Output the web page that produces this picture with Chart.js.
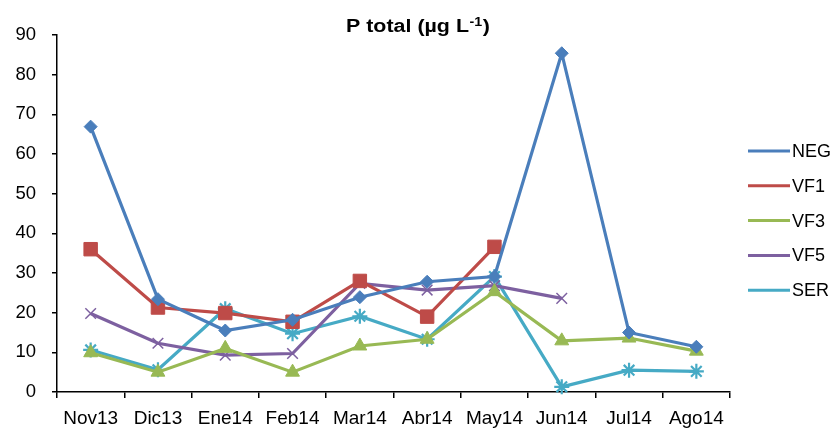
<!DOCTYPE html>
<html>
<head>
<meta charset="utf-8">
<style>
  html, body { margin: 0; padding: 0; background: #fff; }
  #wrap { width: 837px; height: 430px; }
</style>
<script src="https://cdn.jsdelivr.net/npm/chart.js@4/dist/chart.umd.min.js"></script>
</head>
<body>
<div id="wrap"><canvas id="c" width="837" height="430"></canvas></div>
<script>
// Monthly total phosphorus by site
const months = ['Nov13', 'Dic13', 'Ene14', 'Feb14', 'Mar14', 'Abr14', 'May14', 'Jun14', 'Jul14', 'Ago14'];
const neg = [66.9, 23.4, 15.5, 18.2, 23.9, 27.8, 29.1, 85.4, 15.0, 11.4];
const vf1 = [36.0, 21.3, 19.9, 17.7, 28.0, 19.0, 36.6, null, null, null];
const vf3 = [9.9, 5.0, 11.0, 5.0, 11.6, 13.3, 25.3, 12.9, 13.6, 10.3];
const vf5 = [19.8, 12.3, 9.3, 9.7, 27.4, 25.7, 26.8, 23.6, null, null];
const ser = [10.6, 5.6, 21.0, 14.7, 19.1, 13.3, 29.1, 1.3, 5.5, 5.2];
const yTicks = { min: 0, max: 90, step: 10 };

const series = [
  { label: 'NEG', data: neg, color: '#4A7EBB', style: 'rectRot', radius: 6.5, pbw: 1 },
  { label: 'VF1', data: vf1, color: '#BE4B48', style: 'rect', radius: 9.5, pbw: 1 },
  { label: 'VF3', data: vf3, color: '#98B954', style: 'triangle', radius: 8, pbw: 1 },
  { label: 'VF5', data: vf5, color: '#7D60A0', style: 'crossRot', radius: 7.5, pbw: 1.5 },
  { label: 'SER', data: ser, color: '#46AAC5', style: 'star', radius: 7.5, pbw: 2.2 }
];

const FONT = '"Liberation Sans", Arial, sans-serif';

// Title with superscript unit, and a line+marker legend at the right
const decorations = {
  id: 'decorations',
  afterDraw(chart) {
    const ctx = chart.ctx;
    ctx.save();
    ctx.fillStyle = '#000';
    ctx.textBaseline = 'alphabetic';

    // title
    const main = 'P total (\u00B5g L';
    const sup = '-1';
    const close = ')';
    const mainFont = 'bold 18px ' + FONT;
    const supFont = 'bold 12px ' + FONT;
    ctx.font = mainFont;
    const wMain = ctx.measureText(main).width;
    const wClose = ctx.measureText(close).width;
    ctx.font = supFont;
    const wSup = ctx.measureText(sup).width;
    const total = wMain + wSup + wClose + 1;
    const targetW = 144;
    const sx = targetW / total;
    ctx.translate(346, 32);
    ctx.scale(sx, 1);
    ctx.font = mainFont;
    ctx.fillText(main, 0, 0);
    ctx.font = supFont;
    ctx.fillText(sup, wMain + 0.5, -6);
    ctx.font = mainFont;
    ctx.fillText(close, wMain + wSup + 1, 0);
    ctx.setTransform(1, 0, 0, 1, 0, 0);

    // legend
    const x0 = 748, x1 = 790, tx = 792;
    ctx.font = '18px ' + FONT;
    ctx.textBaseline = 'middle';
    chart.data.datasets.forEach((ds, i) => {
      const y = 151 + i * 34.8;
      ctx.strokeStyle = ds.borderColor;
      ctx.lineWidth = 3;
      ctx.beginPath();
      ctx.moveTo(x0, y);
      ctx.lineTo(x1, y);
      ctx.stroke();
      ctx.fillStyle = ds.pointBackgroundColor;
      ctx.strokeStyle = ds.pointBorderColor;
      ctx.lineWidth = ds.pointBorderWidth;
      Chart.helpers.drawPoint(ctx, {
        pointStyle: ds.pointStyle,
        rotation: 0,
        borderWidth: ds.pointBorderWidth
      }, (x0 + x1) / 2, y);
      ctx.fillStyle = '#000';
      ctx.fillText(ds.label, tx, y + 1);
    });
    ctx.restore();
  }
};

new Chart(document.getElementById('c'), {
  type: 'line',
  data: {
    labels: months,
    datasets: series.map(s => ({
      label: s.label,
      data: s.data,
      borderColor: s.color,
      backgroundColor: s.color,
      borderWidth: 3.2,
      pointStyle: s.style,
      pointRadius: s.radius,
      pointHoverRadius: s.radius,
      pointBackgroundColor: s.color,
      pointBorderColor: s.color,
      pointBorderWidth: s.pbw,
      tension: 0,
      spanGaps: false,
      clip: false
    }))
  },
  options: {
    responsive: false,
    animation: false,
    devicePixelRatio: 1,
    layout: { padding: { top: 35, right: 107, bottom: 0, left: 0 } },
    plugins: {
      legend: { display: false },
      title: { display: false },
      tooltip: { enabled: false }
    },
    scales: {
      x: {
        type: 'category',
        offset: true,
        afterFit(scale) { scale.height = 38; },
        grid: {
          offset: true,
          drawOnChartArea: false,
          drawTicks: true,
          tickLength: 6,
          color: '#000',
          lineWidth: 1.5
        },
        border: { display: true, color: '#000', width: 1.5 },
        ticks: {
          color: '#000',
          font: { family: FONT, size: 19 },
          padding: 9,
          maxRotation: 0,
          autoSkip: false
        }
      },
      y: {
        min: yTicks.min,
        max: yTicks.max,
        afterFit(scale) { scale.width = 57; },
        grid: {
          drawOnChartArea: false,
          drawTicks: true,
          tickLength: 5,
          color: '#000',
          lineWidth: 1.5
        },
        border: { display: true, color: '#000', width: 1.5 },
        ticks: {
          stepSize: yTicks.step,
          color: '#000',
          font: { family: FONT, size: 18.5 },
          padding: 16
        }
      }
    }
  },
  plugins: [decorations]
});
</script>
</body>
</html>
